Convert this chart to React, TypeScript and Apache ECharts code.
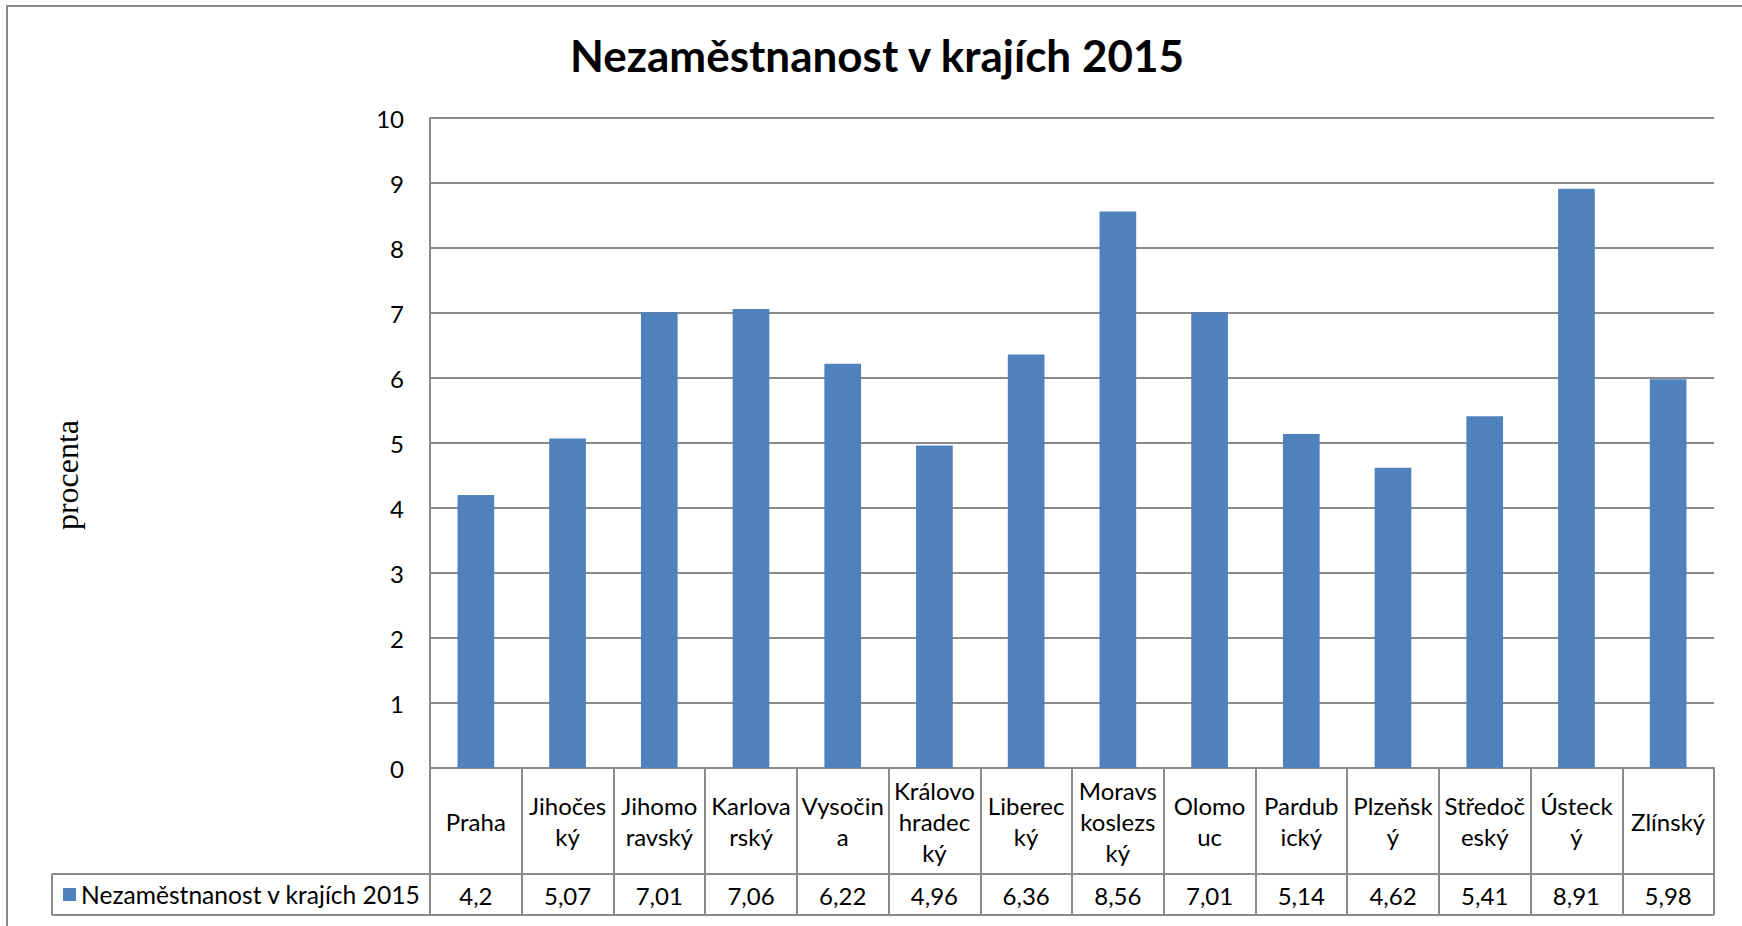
import React, { useEffect, useRef } from "react";
import * as echarts from "echarts";

const TITLE = "Nezaměstnanost v krajích 2015";
const SERIES_NAME = "Nezaměstnanost v krajích 2015";
const Y_AXIS_NAME = "procenta";
const CATEGORY_LABELS = [
  "Praha",
  "Jihočes\nký",
  "Jihomo\nravský",
  "Karlova\nrský",
  "Vysočin\na",
  "Královo\nhradec\nký",
  "Liberec\nký",
  "Moravs\nkoslezs\nký",
  "Olomo\nuc",
  "Pardub\nický",
  "Plzeňsk\ný",
  "Středoč\neský",
  "Ústeck\ný",
  "Zlínský",
];
const VALUES = [4.2, 5.07, 7.01, 7.06, 6.22, 4.96, 6.36, 8.56, 7.01, 5.14, 4.62, 5.41, 8.91, 5.98];
const Y_MIN = 0;
const Y_MAX = 10;
const Y_STEP = 1;

const VALUE_LABELS = VALUES.map((v) => String(v).replace(".", ","));

const FONT = "Lato, 'Open Sans', sans-serif";
const GRID_COLOR = "#8a8a8a";
const BAR_COLOR = "#4F81BD";

export default function App() {
  const ref = useRef<HTMLDivElement>(null);
  useEffect(() => {
    if (!ref.current) return;
    const chart = echarts.init(ref.current, undefined, { renderer: "svg" });
    chart.setOption({
      animation: false,
      backgroundColor: "#ffffff",
      title: {
        text: TITLE,
        left: 872,
        top: 28,
        textAlign: "center",
        textStyle: { fontFamily: FONT, fontWeight: "bold", fontSize: 44, color: "#000" },
      },
      legend: {
        data: [SERIES_NAME],
        left: 63,
        top: 882,
        padding: 0,
        itemWidth: 13,
        itemHeight: 13,
        icon: "rect",
        textStyle: { fontFamily: FONT, fontSize: 24.6, color: "#000" },
      },
      grid: { left: 430, right: 28, top: 118, bottom: 158, containLabel: false },
      xAxis: [
        {
          type: "category",
          position: "bottom",
          data: CATEGORY_LABELS,
          axisLine: { show: true, lineStyle: { color: GRID_COLOR, width: 2 } },
          axisTick: { show: true, interval: 0, length: 147, lineStyle: { color: GRID_COLOR, width: 2 } },
          axisLabel: {
            interval: 0,
            margin: 53,
            verticalAlign: "middle",
            fontFamily: FONT,
            fontSize: 24,
            lineHeight: 31,
            color: "#000",
          },
        },
        {
          type: "category",
          position: "bottom",
          data: VALUE_LABELS,
          axisLine: { show: false },
          axisTick: { show: false },
          axisLabel: {
            interval: 0,
            margin: 127,
            verticalAlign: "middle",
            fontFamily: FONT,
            fontSize: 24,
            color: "#000",
          },
        },
      ],
      yAxis: {
        type: "value",
        min: Y_MIN,
        max: Y_MAX,
        interval: Y_STEP,
        axisLine: { show: true, lineStyle: { color: GRID_COLOR, width: 2 } },
        axisTick: { show: false },
        splitLine: { show: true, lineStyle: { color: GRID_COLOR, width: 2 } },
        axisLabel: { margin: 26, fontFamily: FONT, fontSize: 24, color: "#000" },
      },
      series: [
        {
          name: SERIES_NAME,
          type: "bar",
          xAxisIndex: 0,
          data: VALUES,
          barWidth: "40%",
          itemStyle: { color: BAR_COLOR },
        },
      ],
      graphic: [
        {
          type: "rect",
          shape: { x: 7, y: 6, width: 1800, height: 1000 },
          style: { fill: "none", stroke: GRID_COLOR, lineWidth: 2 },
          silent: true,
        },
        {
          type: "text",
          x: 67,
          y: 475,
          rotation: Math.PI / 2,
          style: {
            text: Y_AXIS_NAME,
            fontFamily: "'Liberation Serif', 'Times New Roman', serif",
            fontSize: 32,
            fill: "#000",
            align: "center",
            verticalAlign: "middle",
          },
          silent: true,
        },
        {
          type: "line",
          shape: { x1: 52, y1: 874, x2: 1714, y2: 874 },
          style: { stroke: GRID_COLOR, lineWidth: 2 },
          silent: true,
        },
        {
          type: "line",
          shape: { x1: 52, y1: 915, x2: 1714, y2: 915 },
          style: { stroke: GRID_COLOR, lineWidth: 2 },
          silent: true,
        },
        {
          type: "line",
          shape: { x1: 52, y1: 874, x2: 52, y2: 915 },
          style: { stroke: GRID_COLOR, lineWidth: 2 },
          silent: true,
        },
      ],
    });
    return () => chart.dispose();
  }, []);
  return (
    <div
      ref={ref}
      style={{ position: "absolute", left: 0, top: 0, width: 1742, height: 926, background: "#fff" }}
    />
  );
}
